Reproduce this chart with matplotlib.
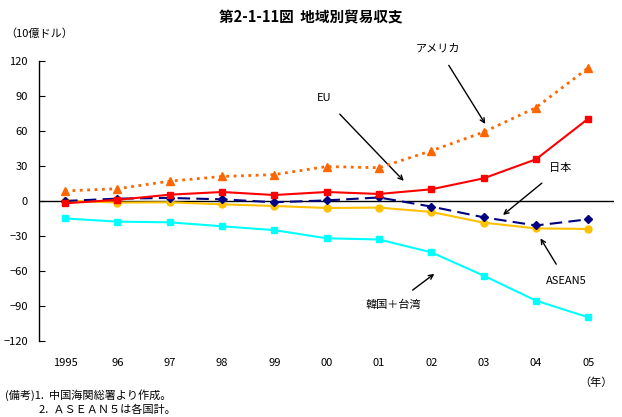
import matplotlib
matplotlib.use("Agg")
import matplotlib.pyplot as plt

plt.rcParams['font.family'] = ['Noto Sans CJK JP', 'DejaVu Sans']

years = ["1995", "96", "97", "98", "99", "00", "01", "02", "03", "04", "05"]
korea_taiwan = [-15, -17.7, -18.3, -21.7, -25, -32, -33, -44, -64, -85.4, -99.7]
asean5 = [0.3, -1.4, -1.1, -2.9, -4.3, -6, -5.7, -9.4, -18.6, -23.5, -24]
eu = [0, 2, 2.6, 1.4, -1.1, 0.5, 3, -4.8, -14, -21, -15.7]
japan = [-2, 1, 5.4, 7.7, 5.1, 7.7, 6, 10, 19.4, 35.7, 70.5]
america = [8.6, 10.5, 17, 21, 22.6, 29.5, 28.5, 43, 59, 80, 114]

x = list(range(len(years)))

fig = plt.figure(figsize=(6.22, 4.17), dpi=100)
ax = fig.add_axes([0.0627, 0.1823, 0.925, 0.6715])
ax.axhline(0, color="black", lw=1, zorder=1)
ax.plot(x, korea_taiwan, "-s", color="#00FFFF", lw=1.5, ms=5, zorder=3)
ax.plot(x, asean5, "-o", color="#FFC000", lw=1.5, ms=5, zorder=3)
ax.plot(x, eu, "--D", color="#000080", lw=1.5, ms=4.5, dashes=(6, 3), zorder=4)
ax.plot(x, japan, "-s", color="#FF0000", lw=1.5, ms=5, zorder=5)
ax.plot(x, america, ":^", color="#FF6600", lw=2, ms=6, zorder=6)

ax.set_xlim(-0.5, 10.5)
ax.set_ylim(-120, 120)
ax.set_yticks(range(-120, 121, 30))
ax.set_xticks(x)
ax.set_xticklabels(years)
ax.tick_params(axis="y", direction="in", length=4, labelsize=8, pad=8)
ax.tick_params(axis="x", length=0, labelsize=8, pad=12)
for s in ("top", "right", "bottom"):
    ax.spines[s].set_visible(False)
ax.spines["left"].set_linewidth(1)

arrow = dict(arrowstyle="->", color="black", lw=1, shrinkA=8)
ax.annotate("アメリカ", xy=(8.06, 64), xytext=(7.13, 131), ha="center", va="center", fontsize=8,
            arrowprops=arrow, annotation_clip=False)
ax.annotate("EU", xy=(6.51, 15.5), xytext=(4.96, 88), ha="center", va="center", fontsize=8, arrowprops=arrow)
ax.annotate("日本", xy=(8.33, -13.5), xytext=(9.46, 28), ha="center", va="center", fontsize=8, arrowprops=arrow)
ax.annotate("ASEAN5", xy=(9.06, -30), xytext=(9.59, -69), ha="center", va="center", fontsize=8,
            arrowprops=arrow)
ax.annotate("韓国＋台湾", xy=(7.1, -61), xytext=(6.27, -89), ha="center", va="center", fontsize=8,
            arrowprops=arrow)

fig.text(0.5, 0.957, "第2-1-11図  地域別貿易収支", ha="center", va="center", fontsize=10.5, fontweight="bold")
fig.text(0.008, 0.92, "（10億ドル）", ha="left", va="center", fontsize=8)
fig.text(0.985, 0.082, "（年）", ha="right", va="center", fontsize=8)
fig.text(0.008, 0.052, "(備考)1.  中国海関総署より作成。", ha="left", va="center", fontsize=8)
fig.text(0.062, 0.016, "2.  ＡＳＥＡＮ５は各国計。", ha="left", va="center", fontsize=8)

fig.savefig("out.png", dpi=100)
